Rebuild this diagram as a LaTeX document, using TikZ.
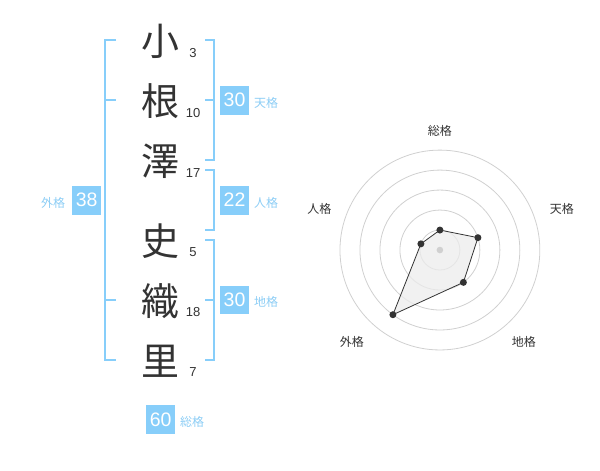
\documentclass[tikz,border=0pt]{standalone}
\usepackage{fontspec}
\setmainfont{Liberation Sans}
\newfontfamily\cjk{Noto Sans CJK JP}
\usepackage{xcolor}
\definecolor{kakuBlue}{RGB}{135, 206, 250}
\definecolor{kakuText}{RGB}{140, 205, 245}
\definecolor{inkGray}{RGB}{51, 51, 51}
\definecolor{ringGray}{RGB}{208, 208, 208}
\definecolor{shapeFill}{RGB}{236, 236, 236}

\tikzset{
    kanji/.style={font=\cjk\fontsize{38}{38}\selectfont, text=inkGray, inner sep=0pt},
    strokes/.style={font=\fontsize{13}{13}\selectfont, text=inkGray, inner sep=0pt},
    kakubox/.style={fill=kakuBlue, text=white, minimum size=29pt, inner sep=0pt,
        font=\fontsize{19.5}{19.5}\selectfont},
    kakulabel/.style={font=\cjk\fontsize{12}{12}\selectfont, text=kakuText, inner sep=0pt},
    bracket/.style={draw=kakuBlue, line width=2pt},
    ring/.style={draw=ringGray, line width=0.8pt},
    axislabel/.style={font=\cjk\fontsize{12}{12}\selectfont, text=inkGray, inner sep=0pt}
}

\begin{document}
\begin{tikzpicture}[x=1pt, y=-1pt]

    \draw [opacity=0] (0, 0) rectangle++ (600, 470);

    % name, one character per row, with its stroke count
    \foreach \ch/\st/\y [count=\i] in {小/3/41, 根/10/101, 澤/17/161, 史/5/241, 織/18/301, 里/7/361} {
        \node [kanji] (c\i) at (160, \y) {\ch};
        \node [strokes] (n\i) at (193, \y+11.5) {\st};
    }

    % gaikaku
    \draw [bracket] (116, 40) -- (105, 40) -- (105, 360) -- (116, 360);
    \draw [bracket] (105, 100) -- (116, 100) (105, 300) -- (116, 300);
    % tenkaku
    \draw [bracket] (205, 40) -- (214, 40) -- (214, 160) -- (205, 160);
    \draw [bracket] (214, 100) -- (205, 100);
    % jinkaku
    \draw [bracket] (205, 170) -- (214, 170) -- (214, 230) -- (205, 230);
    % chikaku
    \draw [bracket] (205, 240) -- (214, 240) -- (214, 360) -- (205, 360);
    \draw [bracket] (214, 300) -- (205, 300);

    \node [kakubox] (tenbox) at (234.5, 100) {30};
    \node [kakulabel] (tenlbl) at (266, 103) {天格};
    \node [kakubox] (jinbox) at (234.5, 200) {22};
    \node [kakulabel] (jinlbl) at (266, 203) {人格};
    \node [kakubox] (chibox) at (234.5, 300) {30};
    \node [kakulabel] (chilbl) at (266, 302) {地格};
    \node [kakubox] (gaibox) at (86.5, 200) {38};
    \node [kakulabel] (gailbl) at (53, 203) {外格};
    \node [kakubox] (soubox) at (160.5, 419.5) {60};
    \node [kakulabel] (soulbl) at (192, 422) {総格};

    % radar chart
    \begin{scope}[shift={(440, 250)}]
        \foreach \r in {20, 40, ..., 100}
            \draw [ring] (0, 0) circle [radius=\r pt];
        \coordinate (sou) at (90:20pt);
        \coordinate (ten) at (18:40pt);
        \coordinate (chi) at (-54:40pt);
        \coordinate (gai) at (-126:80pt);
        \coordinate (jin) at (162:20pt);
        \fill [shapeFill, fill opacity=0.75] (sou) -- (ten) -- (chi) -- (gai) -- (jin) -- cycle;
        \fill [ringGray] (0, 0) circle [radius=3.3pt];
        \draw [inkGray, line width=0.8pt] (sou) -- (ten) -- (chi) -- (gai) -- (jin) -- cycle;
        \foreach \p in {sou, ten, chi, gai, jin}
            \fill [inkGray] (\p) circle [radius=3.5pt];
    \end{scope}

    \node [axislabel] (soutag) at (440, 131) {総格};
    \node [axislabel] (tentag) at (562, 208.5) {天格};
    \node [axislabel] (chitag) at (524, 342) {地格};
    \node [axislabel] (gaitag) at (352, 342) {外格};
    \node [axislabel] (jintag) at (319.5, 208.5) {人格};

\end{tikzpicture}
\end{document}
